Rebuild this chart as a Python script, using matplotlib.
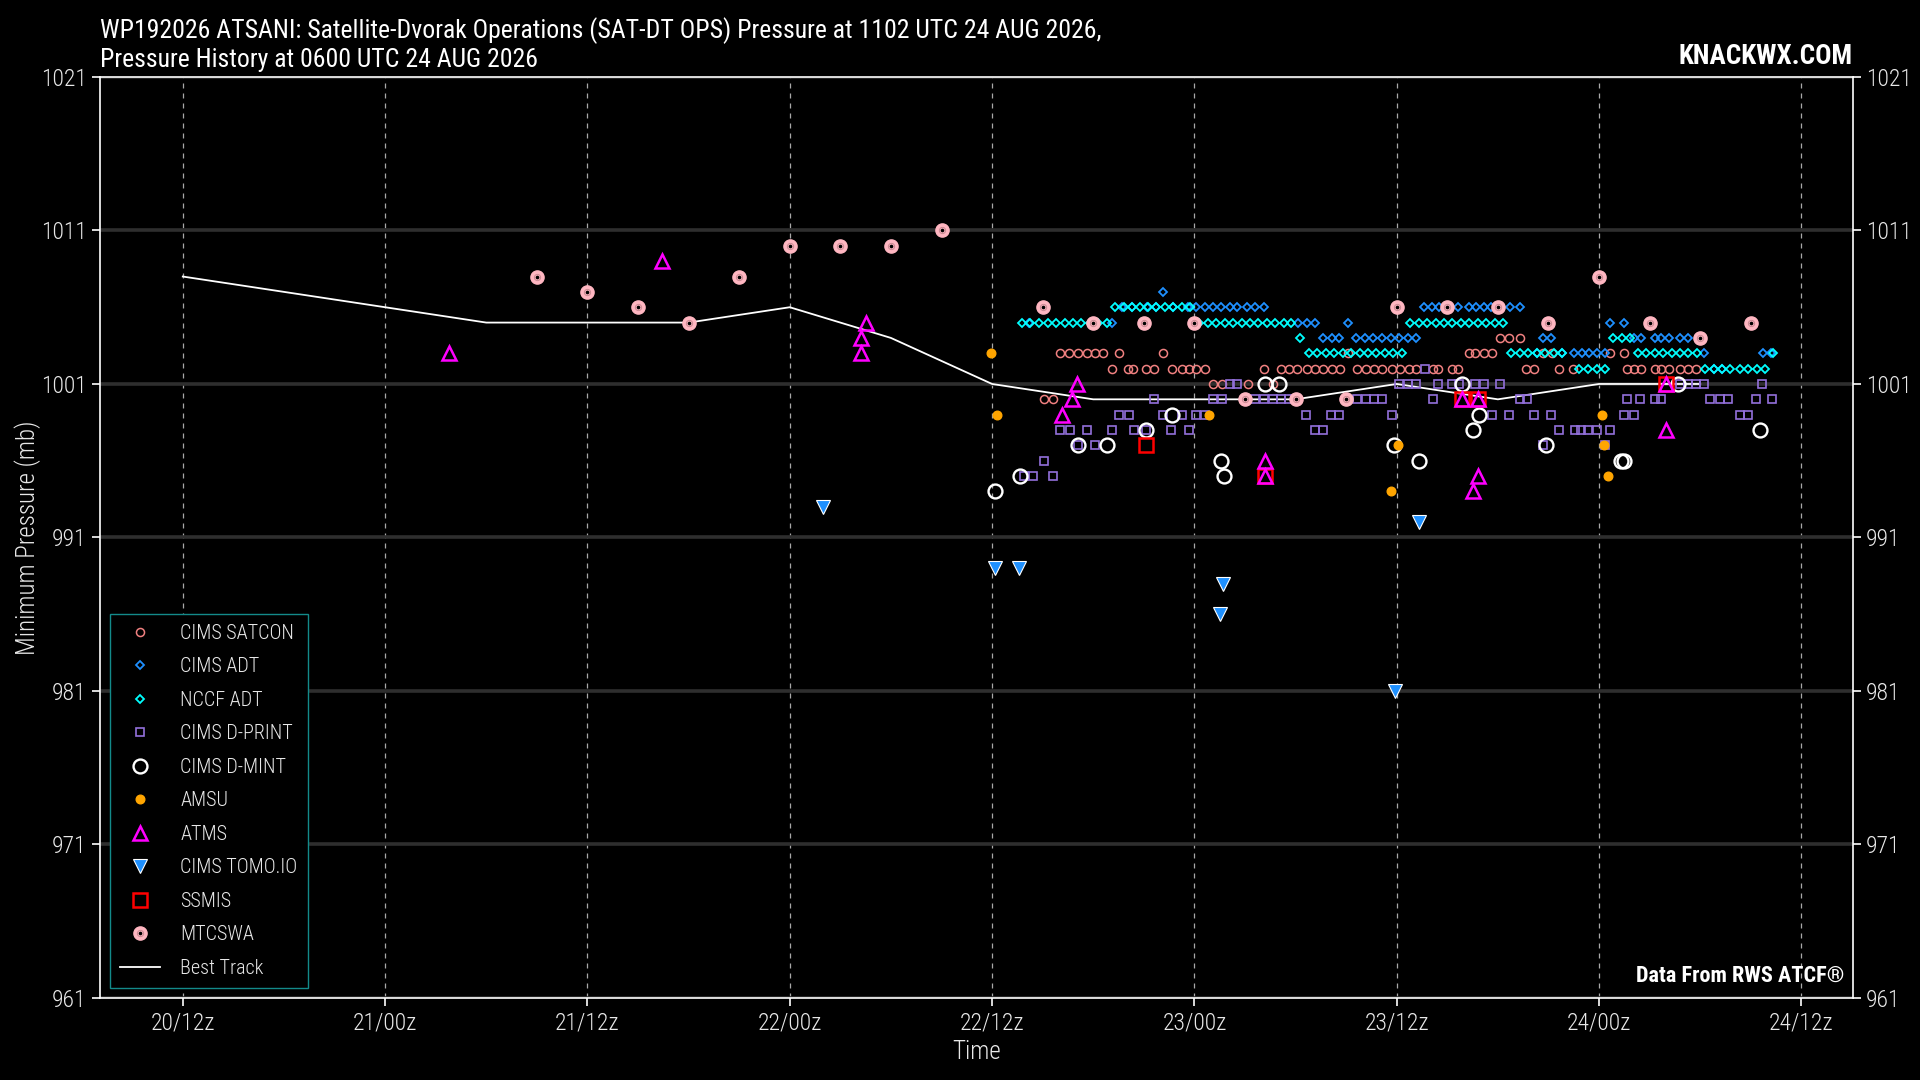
import numpy as np
import pandas as pd
import matplotlib
matplotlib.use('Agg')
import matplotlib.pyplot as plt
import matplotlib.dates as mdates
from matplotlib import font_manager

# base time of the x axis, everything below is hours after 20/12z
base = pd.Timestamp('2026-08-20 12:00')

# best track
bt_hr = [0, 6, 12, 18, 24, 30, 36, 42, 48, 54, 60, 66, 72, 78, 84, 90]
bt_mb = [1008, 1007, 1006, 1005, 1005, 1005, 1006, 1004, 1001, 1000, 1000, 1000, 1001, 1000, 1001, 1001]

# fixes, pressure row -> hours
satcon_rows = {
    1004: [78.15, 78.65, 79.3],
    1003: [52.05, 52.55, 53.1, 53.6, 54.1, 54.6, 55.55, 58.15, 69.1, 76.3, 76.65, 77.15, 77.65,
           80.7, 81.2, 84.65, 85.5],
    1002: [55.1, 56.05, 56.35, 57.1, 57.6, 58.65, 59.25, 59.65, 60.1, 60.6, 64.15, 65.15, 65.6,
           66.1, 66.65, 67.15, 67.65, 68.15, 68.65, 69.65, 70.15, 70.65, 71.15, 71.7, 72.2, 72.7,
           73.15, 74.15, 74.45, 75.3, 75.65, 79.65, 80.15, 81.65, 82.45, 85.65, 86.1, 86.5, 87.3,
           87.7, 88.15, 88.8, 89.3, 89.75],
    1001: [61.1, 61.65, 63.15, 64.65],
    1000: [51.1, 51.6],
}
cims_adt_rows = {
    1007: [58.15],
    1006: [55.7, 56.3, 57.2, 57.75, 58.75, 59.6, 60.1, 60.6, 61.1, 61.6, 62.1, 62.5, 63.1, 63.6,
           64.1, 73.6, 74.1, 74.5, 75.65, 76.3, 76.7, 77.15, 77.6, 78.7, 79.3],
    1005: [50.2, 55.1, 66.15, 66.65, 67.15, 69.1, 84.65, 85.5],
    1004: [67.65, 68.15, 68.6, 69.6, 70.1, 70.6, 71.15, 71.65, 72.15, 72.65, 73.15, 80.7, 81.15,
           86.1, 86.5, 87.3, 87.7, 88.15, 88.8, 89.3],
    1003: [80.3, 81.8, 82.5, 83.0, 83.4, 83.85, 84.35, 90.2, 93.7, 94.2],
    1002: [90.8, 91.3],
}
nccf_adt_rows = {
    1006: [55.3, 55.8, 56.3, 56.75, 57.25, 57.75, 58.25, 58.75, 59.25, 59.75],
    1005: [49.75, 50.25, 50.8, 51.3, 51.8, 52.3, 52.8, 53.3, 53.8, 54.3, 54.8, 60.3, 60.8, 61.3,
           61.8, 62.3, 62.8, 63.3, 63.8, 64.3, 64.8, 65.3, 65.75, 72.8, 73.3, 73.8, 74.3, 74.8,
           75.3, 75.8, 76.3, 76.8, 77.3, 77.8, 78.3],
    1004: [66.25, 84.85, 85.35, 85.85],
    1003: [66.8, 67.3, 67.8, 68.3, 68.8, 69.3, 69.8, 70.3, 70.8, 71.3, 71.8, 72.3, 78.8, 79.3,
           79.8, 80.3, 80.8, 81.3, 81.8, 86.3, 86.8, 87.3, 87.8, 88.3, 88.8, 89.3, 89.8, 94.3],
    1002: [82.8, 83.35, 83.85, 84.35, 90.3, 90.8, 91.3, 91.75, 92.35, 92.85, 93.35, 93.85],
}
dprint_rows = {
    1002: [73.65],
    1001: [62.1, 62.5, 72.15, 72.65, 73.15, 74.45, 75.25, 75.7, 76.65, 77.15, 78.15, 88.8, 89.3,
           89.75, 90.2, 93.65],
    1000: [57.6, 61.1, 61.65, 63.6, 64.15, 64.65, 65.15, 65.6, 69.65, 70.15, 70.65, 71.15, 74.15,
           79.3, 79.7, 85.65, 86.4, 87.3, 87.7, 90.6, 91.15, 91.65, 93.3, 94.25],
    999: [55.55, 56.1, 58.15, 59.25, 60.1, 60.6, 66.6, 68.1, 68.6, 71.7, 77.65, 78.65, 80.15,
          81.15, 85.5, 86.1, 92.35, 92.85],
    998: [52.05, 52.6, 53.6, 55.1, 56.4, 57.1, 58.6, 59.65, 67.15, 67.65, 81.65, 82.55, 82.95,
          83.35, 83.85, 84.65],
    997: [53.1, 54.1, 80.7, 84.35],
    996: [51.1],
    995: [49.9, 50.45, 51.6],
}
dmint_hr = [48.2, 49.65, 53.1, 54.8, 57.1, 58.7, 61.6, 61.75, 64.2, 65.0, 71.85, 73.35, 75.9,
            76.55, 76.85, 80.85, 85.3, 85.5, 88.7, 93.55]
dmint_mb = [994, 995, 997, 997, 998, 999, 996, 995, 1001, 1001, 997, 996, 1001,
            998, 999, 997, 996, 996, 1001, 998]
amsu_hr = [47.95, 48.3, 60.85, 71.65, 72.05, 84.2, 84.3, 84.55]
amsu_mb = [1003, 999, 999, 994, 997, 999, 997, 995]
atms_hr = [15.8, 28.45, 40.2, 40.2, 40.5, 52.15, 52.75, 53.05, 64.2, 64.2, 75.85, 76.5, 76.8,
           76.8, 87.95, 88.0]
atms_mb = [1003, 1009, 1003, 1004, 1005, 999, 1000, 1001, 996, 995, 1000, 994, 1000,
           995, 1001, 998]
tomo_hr = [38.0, 48.2, 49.6, 61.5, 61.7, 71.9, 73.3]
tomo_mb = [993, 989, 989, 986, 988, 981, 992]
ssmis_hr = [57.1, 64.2, 75.85, 76.8, 87.95]
ssmis_mb = [997, 995, 1000, 1000, 1001]
mtcswa_hr = [21, 24, 27, 30, 33, 36, 39, 42, 45, 51, 54, 57, 60, 63, 66, 69, 72, 75, 78, 81,
             84, 87, 90, 93]
mtcswa_mb = [1008, 1007, 1006, 1005, 1008, 1010, 1010, 1010, 1011, 1006, 1005, 1005, 1005,
             1000, 1000, 1000, 1006, 1006, 1006, 1005, 1008, 1005, 1004, 1005]

y_ticks = [961, 971, 981, 991, 1001, 1011, 1021]


def to_time(hours):
    return (base + pd.to_timedelta(np.asarray(hours, dtype=float), unit='h')).to_numpy()


def flatten(rows):
    hrs, mbs = [], []
    for mb, hs in rows.items():
        hrs += hs
        mbs += [mb] * len(hs)
    return to_time(hrs), mbs


# pick a narrow font if there is one
names = {f.name for f in font_manager.fontManager.ttflist}
font = 'DejaVu Sans'
for cand in ['Roboto Condensed', 'Liberation Sans Narrow', 'Open Sans Condensed']:
    if cand in names:
        font = cand
        break
plt.rcParams['font.family'] = [font, 'DejaVu Sans']

fg = '#e8e8e8'
fig = plt.figure(figsize=(19.2, 10.8), dpi=100, facecolor='black')
ax = fig.add_axes([0.052, 0.076, 0.913, 0.8527], facecolor='black')

ax.plot(to_time(bt_hr), bt_mb, color='white', lw=1.3, zorder=2)

x, y = flatten(satcon_rows)
h_satcon, = ax.plot(x, y, ls='none', marker='o', ms=5.8, mfc='none', mec='#f08080', mew=1.1, zorder=3)
x, y = flatten(cims_adt_rows)
h_cadt, = ax.plot(x, y, ls='none', marker='D', ms=4.2, mfc='none', mec='#1e90ff', mew=1.3, zorder=3)
x, y = flatten(nccf_adt_rows)
h_nadt, = ax.plot(x, y, ls='none', marker='D', ms=4.2, mfc='none', mec='#00ffff', mew=1.3, zorder=3)
x, y = flatten(dprint_rows)
h_dprint, = ax.plot(x, y, ls='none', marker='s', ms=5.2, mfc='none', mec='#9370db', mew=1.2, zorder=3)
h_dmint, = ax.plot(to_time(dmint_hr), dmint_mb, ls='none', marker='o', ms=10, mfc='none',
                   mec='white', mew=1.7, zorder=4)
h_amsu, = ax.plot(to_time(amsu_hr), amsu_mb, ls='none', marker='o', ms=6.2, mfc='#ffa500',
                  mec='#ffa500', zorder=4)
h_atms, = ax.plot(to_time(atms_hr), atms_mb, ls='none', marker='^', ms=10.5, mfc='none',
                  mec='#ff00ff', mew=1.8, zorder=5)
h_tomo, = ax.plot(to_time(tomo_hr), tomo_mb, ls='none', marker='v', ms=10.5, mfc='#1e90ff',
                  mec='white', mew=0.8, zorder=5)
h_ssmis, = ax.plot(to_time(ssmis_hr), ssmis_mb, ls='none', marker='s', ms=10, mfc='none',
                   mec='#ff0000', mew=1.8, zorder=4)
m1, = ax.plot(to_time(mtcswa_hr), mtcswa_mb, ls='none', marker='o', ms=9.5, mfc='#ffb6c1',
              mec='#ffb6c1', zorder=4)
m2, = ax.plot(to_time(mtcswa_hr), mtcswa_mb, ls='none', marker='o', ms=4.5, mfc='none',
              mec='#c98a92', mew=0.7, zorder=4)
m3, = ax.plot(to_time(mtcswa_hr), mtcswa_mb, ls='none', marker='o', ms=1.6, mfc='black',
              mec='black', zorder=4)
h_bt, = ax.plot([], [], color='white', lw=1.3)

ax.set_xlim(to_time([-4.92, 99.05]))
ax.set_ylim(961, 1021)
ax.set_yticks(y_ticks)
ax.xaxis.set_major_locator(mdates.HourLocator(byhour=[0, 12]))
ax.xaxis.set_major_formatter(mdates.DateFormatter('%d/%Hz'))

ax.grid(axis='y', color='#2e2e2e', lw=2.6, zorder=0)
ax.grid(axis='x', color='#a8a8a8', lw=0.9, ls=(0, (4, 4)), zorder=0)
ax.set_axisbelow(True)

for s in ax.spines.values():
    s.set_color('white')
    s.set_linewidth(1.2)
ax.tick_params(colors='white', labelcolor=fg, labelsize=17, length=6, width=1.2,
               right=True, labelright=True)
for lab in ax.get_xticklabels() + ax.get_yticklabels():
    lab.set_fontweight('light')
for lab in ax.yaxis.get_ticklabels(which='both'):
    lab.set_fontweight('light')

ax.set_xlabel('Time', color=fg, fontsize=18, labelpad=4, fontweight='light')
ax.set_ylabel('Minimum Pressure (mb)', color=fg, fontsize=18, labelpad=0, fontweight='light')
ax.set_title('WP192026 ATSANI: Satellite-Dvorak Operations (SAT-DT OPS) Pressure at 1102 UTC 24 AUG 2026,\n'
             'Pressure History at 0600 UTC 24 AUG 2026',
             loc='left', color='white', fontsize=18.5, pad=7.5, linespacing=1.2)
ax.text(1.0, 1.008, 'KNACKWX.COM', transform=ax.transAxes, ha='right', va='bottom',
        color='white', fontsize=19.5, fontweight='bold')
ax.text(0.995, 0.012, 'Data From RWS ATCF®', transform=ax.transAxes, ha='right', va='bottom',
        color='white', fontsize=16, fontweight='bold')

leg = ax.legend([h_satcon, h_cadt, h_nadt, h_dprint, h_dmint, h_amsu, h_atms, h_tomo, h_ssmis,
                 (m1, m2, m3), h_bt],
                ['CIMS SATCON', 'CIMS ADT', 'NCCF ADT', 'CIMS D-PRINT', 'CIMS D-MINT', 'AMSU',
                 'ATMS', 'CIMS TOMO.IO', 'SSMIS', 'MTCSWA', 'Best Track'],
                loc='lower left', fontsize=14.5, labelcolor=fg, facecolor='black',
                edgecolor='#138a8a', framealpha=1, fancybox=False, labelspacing=0.72,
                handletextpad=1.0, borderpad=0.5, prop={'weight': 'light', 'size': 14.5})
leg.get_frame().set_linewidth(1.0)

fig.savefig('out.png', dpi=100, facecolor='black')
